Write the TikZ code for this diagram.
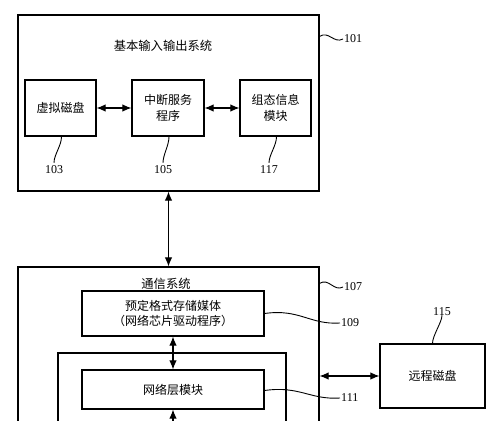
\documentclass[tikz,border=0pt]{standalone}
\usepackage{fontspec}
\setmainfont{Liberation Serif}
\newfontfamily\cjk{Noto Sans CJK SC}
\usetikzlibrary{arrows.meta}
\begin{document}
\begin{tikzpicture}[x=1pt,y=-1pt,
  box/.style={draw, line width=1.2pt, inner sep=0pt, align=center, font=\cjk\fontsize{12}{15.5}\selectfont},
  txt/.style={inner sep=0pt, font=\cjk\fontsize{12.3}{15}\selectfont},
  arr/.style={{Latex[length=9pt,width=7.5pt]}-{Latex[length=9pt,width=7.5pt]}, line width=1.1pt},
  num/.style={inner sep=1pt, font=\fontsize{12}{14}\selectfont},
  lead/.style={line width=0.9pt}]
\clip (0,0) rectangle (500,420);
\fill[white] (0,0) rectangle (500,420);
% BIOS
\node[box, minimum width=301pt, minimum height=176pt] (bios) at (168.5,103) {};
\node[txt] (biost) at (163,46) {基本输入输出系统};
\node[box, minimum width=71pt, minimum height=56pt] (vd) at (60.5,108) {虚拟磁盘};
\node[box, minimum width=72pt, minimum height=56pt] (isr) at (168,108) {中断服务\\程序};
\node[box, minimum width=71pt, minimum height=56pt] (cfg) at (275.5,108) {组态信息\\模块};
\draw[arr] (vd.east) -- (isr.west);
\draw[arr] (isr.east) -- (cfg.west);
\node[num] (n103) at (54,170) {103};
\node[num] (n105) at (163,170) {105};
\node[num] (n117) at (269,170) {117};
\draw[lead] ([xshift=1pt]vd.south) .. controls +(0,9) and +(0,-8) .. ([yshift=2pt]n103.north);
\draw[lead] ([xshift=1pt]isr.south) .. controls +(0,9) and +(0,-8) .. ([yshift=2pt]n105.north);
\draw[lead] ([xshift=1pt]cfg.south) .. controls +(0,9) and +(0,-8) .. ([yshift=2pt]n117.north);
\node[num, anchor=west] (n101) at (343,39) {101};
\draw[lead] ([yshift=-22pt]bios.north east) .. controls +(9,-6) and +(-9,5) .. (n101.west);
% Communication system
\node[box, minimum width=301pt, minimum height=200pt] (comm) at (168.5,367) {};
\node[txt] (commt) at (166,284) {通信系统};
\draw[arr] (bios.south) -- (comm.north);
\node[box, minimum width=182pt, minimum height=45pt] (fmt) at (173,313.5) {预定格式存储媒体\\（网络芯片驱动程序）};
\node[box, minimum width=228pt, minimum height=87pt] (grp) at (172,396.5) {};
\node[box, minimum width=182pt, minimum height=39pt] (net) at (173,389.5) {网络层模块};
\coordinate (below) at (173,445);
\draw[arr] (fmt.south) -- (net.north);
\draw[arr] (below) -- (net.south);
\node[num, anchor=west] (n107) at (343,287) {107};
\draw[lead] ([yshift=-17pt]comm.north east) .. controls +(9,-6) and +(-9,5) .. (n107.west);
\node[num, anchor=west] (n109) at (340,323) {109};
\draw[lead] (fmt.east) .. controls +(35,-5) and +(-30,2) .. (n109.west);
\node[num, anchor=west] (n111) at (340,398) {111};
\draw[lead] ([yshift=-1pt]net.east) .. controls +(35,-5) and +(-30,2) .. (n111.west);
% Remote disk
\node[box, minimum width=105pt, minimum height=64pt] (rd) at (432.5,376) {远程磁盘};
\draw[arr] (rd.west -| comm.east) -- (rd.west);
\node[num] (n115) at (442,312) {115};
\draw[lead] (rd.north) .. controls +(0,-8) and +(0,7) .. ([yshift=2pt]n115.south);
\end{tikzpicture}
\end{document}
